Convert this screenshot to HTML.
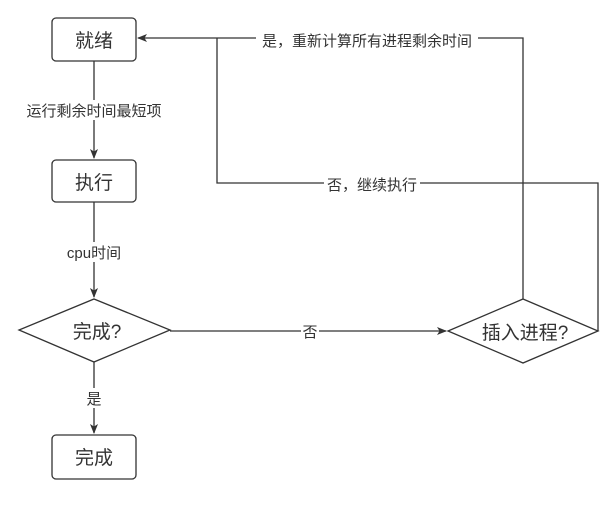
<!DOCTYPE html>
<html><head><meta charset="utf-8"><style>
html,body{margin:0;padding:0;background:#fff;}
svg{display:block;}
text{font-family:"Liberation Sans","Noto Sans CJK SC",sans-serif;fill:#333;}
</style></head><body>
<svg width="605" height="512" viewBox="0 0 605 512" xmlns="http://www.w3.org/2000/svg">
<defs><marker id="a" markerWidth="10" markerHeight="10" refX="9" refY="5" orient="auto" markerUnits="userSpaceOnUse"><path d="M0,1 L10,5 L0,9 L2.5,5 Z" fill="#333"/></marker></defs>
<g stroke="#333" stroke-width="1.3" fill="none">
<rect x="52" y="18" width="84" height="43" rx="4" fill="#fff"/>
<rect x="52" y="160" width="84" height="42" rx="4" fill="#fff"/>
<rect x="52" y="435" width="84" height="44" rx="4" fill="#fff"/>
<polygon points="94,299 170,330 94,362 19,330" fill="#fff"/>
<polygon points="523,299 598,331 523,363 448,331" fill="#fff"/>
<line x1="94" y1="61" x2="94" y2="158" marker-end="url(#a)"/>
<line x1="94" y1="202" x2="94" y2="297" marker-end="url(#a)"/>
<line x1="94" y1="362" x2="94" y2="433" marker-end="url(#a)"/>
<line x1="170" y1="331" x2="446" y2="331" marker-end="url(#a)"/>
<polyline points="523,299 523,38 138,38" marker-end="url(#a)"/>
<polyline points="598,331 598,183 217,183 217,38"/>
</g>
<g font-size="15" text-anchor="middle">
<rect x="24" y="100" width="141" height="20" fill="#fff"/>
<text x="94" y="116">运行剩余时间最短项</text>
<rect x="62" y="242" width="66" height="20" fill="#fff"/>
<text x="94" y="258">cpu时间</text>
<rect x="85" y="388" width="18" height="20" fill="#fff"/>
<text x="94" y="404">是</text>
<rect x="301" y="321" width="18" height="20" fill="#fff"/>
<text x="310" y="337">否</text>
<rect x="256" y="29" width="222" height="20" fill="#fff"/>
<text x="367" y="46">是，重新计算所有进程剩余时间</text>
<rect x="324" y="173" width="96" height="20" fill="#fff"/>
<text x="372" y="190">否，继续执行</text>
</g>
<g font-size="19" text-anchor="middle">
<text x="94" y="47">就绪</text>
<text x="94" y="189">执行</text>
<text x="94" y="464">完成</text>
<text x="97" y="338">完成?</text>
<text x="525" y="339">插入进程?</text>
</g>
</svg>
</body></html>
